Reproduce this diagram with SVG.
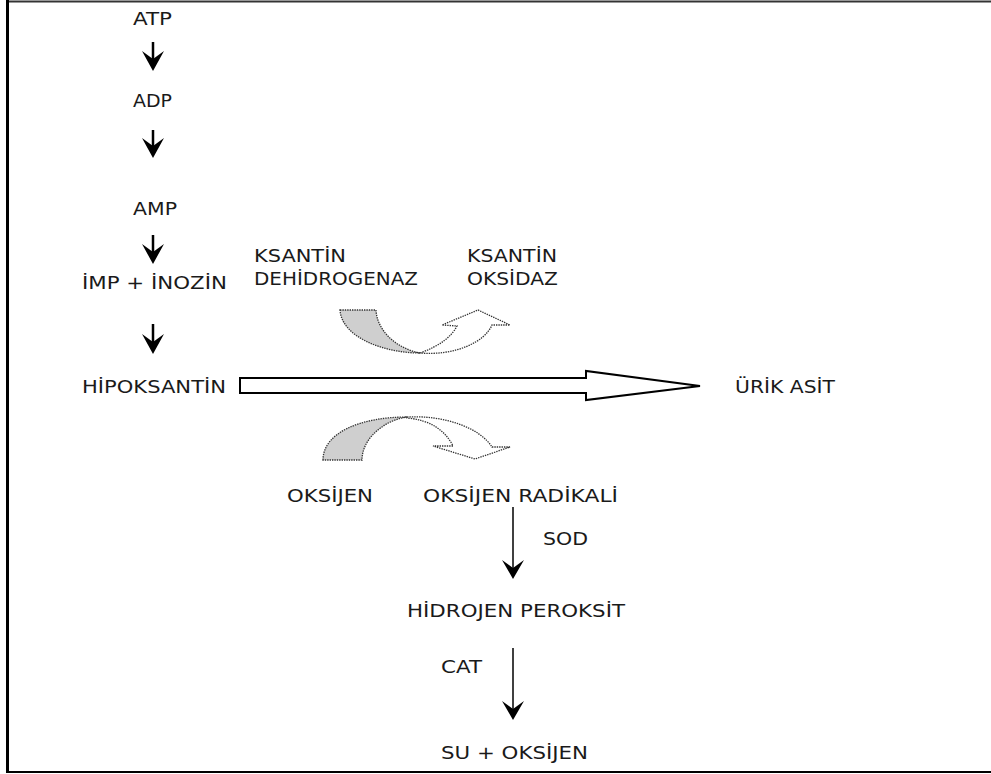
<svg xmlns="http://www.w3.org/2000/svg" width="991" height="774" viewBox="0 0 991 774">
<defs>
<style>
.t{font-family:"DejaVu Sans","Verdana",sans-serif;font-size:18px;fill:#1a1a1a}
.gray{fill:#cfcfcf;stroke:#333;stroke-width:1.3;stroke-dasharray:1.4 1}
.wh{fill:#fff;stroke:#333;stroke-width:1.3;stroke-dasharray:1.4 1}
.ln{stroke:#000;fill:none}
</style>
</defs>
<rect x="0" y="0" width="991" height="774" fill="#fff"/>
<g id="frame">
<line x1="6" y1="1.5" x2="991" y2="1.5" stroke="#333" stroke-width="2"/>
<line x1="7.5" y1="0" x2="7.5" y2="773" stroke="#000" stroke-width="3"/>
<line x1="6" y1="772" x2="991" y2="772" stroke="#000" stroke-width="2"/>
</g>
<g id="connectors">
<g id="a1"><line class="ln" x1="153" y1="42" x2="153" y2="62" stroke-width="2.5"/><path d="M153,71 L142,51 L153,59 L164,51 Z" fill="#000"/></g>
<g id="a2"><line class="ln" x1="153" y1="130" x2="153" y2="149" stroke-width="2.5"/><path d="M153,158 L142,138 L153,146 L164,138 Z" fill="#000"/></g>
<g id="a3"><line class="ln" x1="153" y1="235" x2="153" y2="255" stroke-width="2.5"/><path d="M153,264 L142,244 L153,252 L164,244 Z" fill="#000"/></g>
<g id="a4"><line class="ln" x1="153" y1="324" x2="153" y2="345" stroke-width="2.5"/><path d="M153,354 L142,334 L153,342 L164,334 Z" fill="#000"/></g>
<g id="bigArrow"><polygon points="240,378 586,378 586,371 700,386 586,400 586,393 240,393" fill="#fff" stroke="#000" stroke-width="2" stroke-linejoin="miter"/></g>
<g id="sodArrow"><line class="ln" x1="513" y1="507" x2="513" y2="572" stroke-width="1.5"/><path d="M513,579 L502,560 L513,568 L524,560 Z" fill="#000"/></g>
<g id="catArrow"><line class="ln" x1="513" y1="648" x2="513" y2="713" stroke-width="1.5"/><path d="M513,720 L502,701 L513,709 L524,701 Z" fill="#000"/></g>
<g id="upperCurve">
<path class="gray" d="M340,310 L376,310 C377,330 395,348 420,353 C385,353 342,338 340,310 Z"/>
<path class="wh" d="M420,353 C440,346 452,336 457,326 L442,325 L478,310 L510,325 L492,325 C485,342 455,356 420,353 Z"/>
</g>
<g id="lowerCurve">
<path class="gray" d="M323,460 C323,433 360,417 407,417 C385,420 362,438 362,460 Z"/>
<path class="wh" d="M407,417 C445,415 480,428 492,447 L510,447 L475,459 L433,446 L453,446 C445,430 430,420 407,418 Z"/>
</g>
</g>
<g id="n-atp"><text class="t" x="133" y="25" textLength="39" lengthAdjust="spacingAndGlyphs">ATP</text></g>
<g id="n-adp"><text class="t" x="133" y="107" textLength="39" lengthAdjust="spacingAndGlyphs">ADP</text></g>
<g id="n-amp"><text class="t" x="133" y="215" textLength="44" lengthAdjust="spacingAndGlyphs">AMP</text></g>
<g id="n-imp"><text class="t" x="82" y="289" textLength="145" lengthAdjust="spacingAndGlyphs">İMP + İNOZİN</text></g>
<g id="n-hipo"><text class="t" x="82" y="393" textLength="144" lengthAdjust="spacingAndGlyphs">HİPOKSANTİN</text></g>
<g id="n-xdh"><text class="t" x="254" y="262" textLength="92" lengthAdjust="spacingAndGlyphs">KSANTİN</text><text class="t" x="254" y="285" textLength="164" lengthAdjust="spacingAndGlyphs">DEHİDROGENAZ</text></g>
<g id="n-xo"><text class="t" x="467" y="262" textLength="90" lengthAdjust="spacingAndGlyphs">KSANTİN</text><text class="t" x="467" y="285" textLength="91" lengthAdjust="spacingAndGlyphs">OKSİDAZ</text></g>
<g id="n-urik"><text class="t" x="735" y="393" textLength="100" lengthAdjust="spacingAndGlyphs">ÜRİK ASİT</text></g>
<g id="n-oks"><text class="t" x="287" y="502" textLength="86" lengthAdjust="spacingAndGlyphs">OKSİJEN</text></g>
<g id="n-radikal"><text class="t" x="423" y="502" textLength="195" lengthAdjust="spacingAndGlyphs">OKSİJEN RADİKALİ</text></g>
<g id="n-sod"><text class="t" x="543" y="545" textLength="45" lengthAdjust="spacingAndGlyphs">SOD</text></g>
<g id="n-h2o2"><text class="t" x="407" y="617" textLength="218" lengthAdjust="spacingAndGlyphs">HİDROJEN PEROKSİT</text></g>
<g id="n-cat"><text class="t" x="441" y="673" textLength="41" lengthAdjust="spacingAndGlyphs">CAT</text></g>
<g id="n-su"><text class="t" x="441" y="759" textLength="147" lengthAdjust="spacingAndGlyphs">SU + OKSİJEN</text></g>
</svg>
